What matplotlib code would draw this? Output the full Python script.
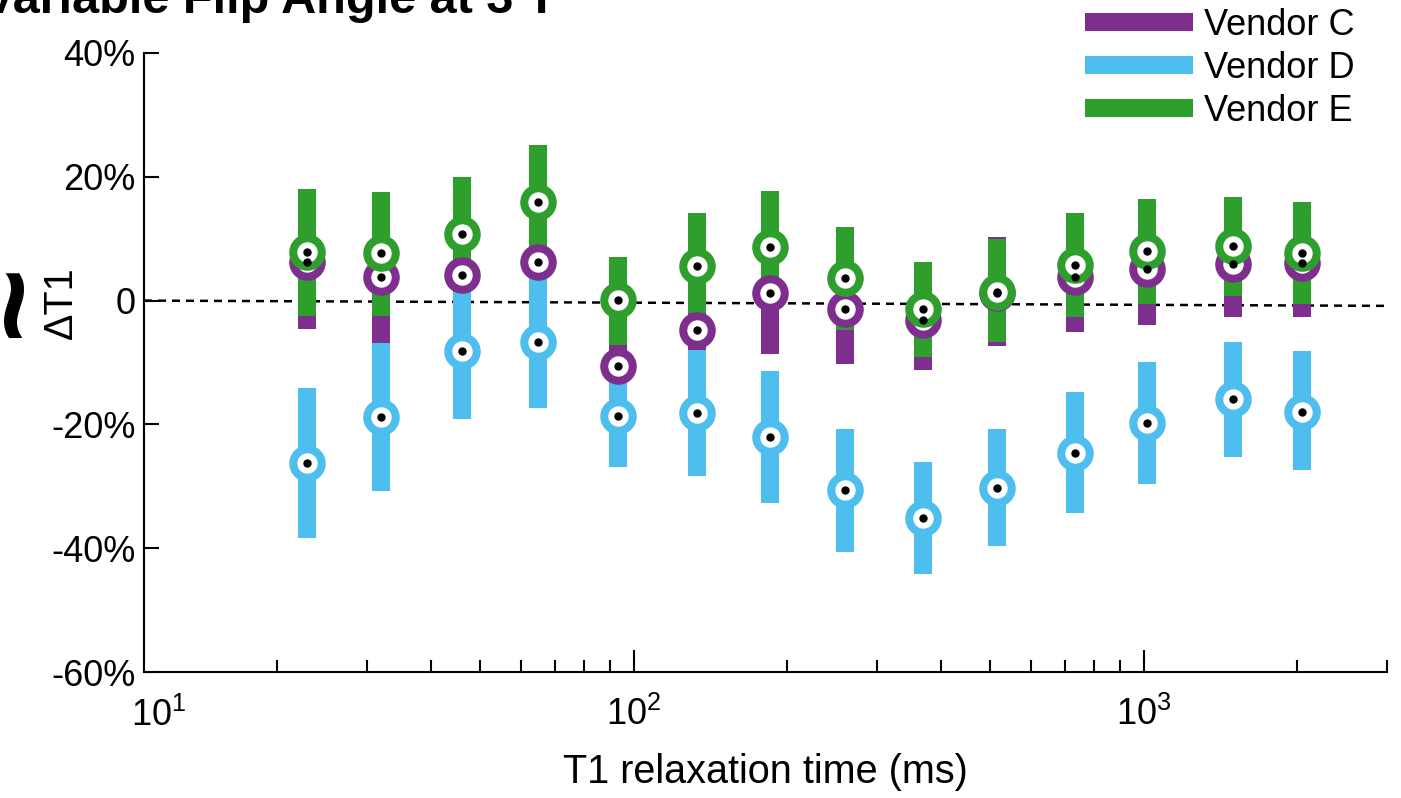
import numpy as np
import matplotlib.pyplot as plt
from matplotlib.lines import Line2D
from matplotlib.ticker import LogLocator, NullFormatter, FixedLocator

plt.rcParams['font.family'] = ['Liberation Sans', 'DejaVu Sans']
plt.rcParams['mathtext.fontset'] = 'custom'
plt.rcParams['mathtext.rm'] = 'Liberation Sans'
plt.rcParams['axes.unicode_minus'] = False

# T1 of the phantom spheres (ms)
t1 = [22.9, 31.9, 46.0, 64.8, 93.0, 133, 185, 260, 369, 515, 732, 1014, 1495, 2042]

# Vendor C
med_c = [6.2, 3.8, 4.1, 6.2, -10.6, -4.8, 1.2, -1.4, -3.1, 1.2, 3.8, 5.1, 5.9, 6.1]
lo_c = [-4.6, -7.5, 0.0, 3.0, -15.0, -9.0, -8.6, -10.2, -11.2, -7.3, -5.1, -3.9, -2.6, -2.7]
hi_c = [12.0, 12.0, 8.0, 10.0, 0.0, 5.0, 9.0, 8.0, 4.0, 10.3, 12.0, 13.0, 14.0, 14.0]

# Vendor D
med_d = [-26.2, -18.8, -8.1, -6.7, -18.6, -18.2, -22.0, -30.6, -35.1, -30.3, -24.6, -19.8, -15.9, -18.0]
lo_d = [-38.4, -30.8, -19.1, -17.3, -26.9, -28.3, -32.7, -40.6, -44.2, -39.7, -34.3, -29.6, -25.3, -27.4]
hi_d = [-14.1, -6.9, 1.4, 4.5, -12.9, -8.0, -11.4, -20.7, -26.1, -20.7, -14.8, -9.9, -6.7, -8.1]

# Vendor E
med_e = [7.8, 7.7, 10.8, 15.9, 0.1, 5.6, 8.7, 3.6, -1.4, 1.4, 5.8, 8.0, 8.8, 7.7]
lo_e = [-2.5, -2.5, 3.0, 7.0, -7.1, -2.0, 0.0, -4.8, -9.1, -6.7, -2.6, -0.5, 0.7, -0.6]
hi_e = [18.0, 17.5, 20.0, 25.1, 7.0, 14.1, 17.7, 11.9, 6.2, 10.0, 14.1, 16.4, 16.7, 15.9]

vendors = ['Vendor C', 'Vendor D', 'Vendor E']
colors = ['#7E2F8E', '#4DBEEE', '#2E9E2C']

# zero reference line ends
ref_x = [10.95, 3000]
ref_y = [0.0, -0.85]

fig = plt.figure(figsize=(14.01, 7.98), dpi=100)
W, H = 1401, 798
ax = fig.add_axes([144 / W, 1 - 672 / H, (1387 - 144) / W, (672 - 53) / H])

ax.plot(ref_x, ref_y, color='black', lw=1.8, ls=(0, (3.2, 2.4)), zorder=1)

meds = [med_c, med_d, med_e]
los = [lo_c, lo_d, lo_e]
his = [hi_c, hi_d, hi_e]

# bars first, then rings, then the black centre dots
for lo, hi, col in zip(los, his, colors):
    ax.vlines(t1, lo, hi, colors=col, lw=13, capstyle='butt', zorder=2)
for med, col in zip(meds, colors):
    ax.plot(t1, med, ls='none', marker='o', ms=20.5, mfc='white', mec=col, mew=5.8, zorder=3)
for med in meds:
    ax.plot(t1, med, ls='none', marker='o', ms=5, color='black', zorder=4)

ax.set_xscale('log')
ax.set_xlim(10.95, 3000)
ax.set_ylim(-60, 40)
for s in ['top', 'right']:
    ax.spines[s].set_visible(False)
for s in ['left', 'bottom']:
    ax.spines[s].set_linewidth(1.5)

ax.xaxis.set_major_locator(FixedLocator([100, 1000]))
ax.set_xticklabels([r'$\mathdefault{10^{2}}$', r'$\mathdefault{10^{3}}$'])
ax.xaxis.set_minor_locator(LogLocator(base=10, subs=np.arange(2, 10)))
ax.xaxis.set_minor_formatter(NullFormatter())
ax.set_yticks([-60, -40, -20, 0, 20, 40])
ax.set_yticklabels(['-60%', '-40%', '-20%', '0', '20%', '40%'])

ax.tick_params(axis='both', which='both', direction='in', width=1.5, labelsize=26)
ax.tick_params(axis='x', which='major', length=15.8, pad=18)
ax.tick_params(axis='x', which='minor', length=8.6)
ax.tick_params(axis='y', which='major', length=11, pad=6)
ax.tick_params(axis='y', which='minor', length=0)

# the 10^1 label sits just right of the axis start
ax.text(15 / 1243, -26 / 619, r'$\mathdefault{10^{1}}$', transform=ax.transAxes,
        ha='center', va='top', fontsize=26)

ax.set_xlabel('T1 relaxation time (ms)', fontsize=28.5, labelpad=14)

fig.text(61 / W, 1 - 303 / H, 'ΔT1', rotation=90, ha='center', va='center', fontsize=28.5)
fig.text(19 / W, 1 - 300 / H, '~', rotation=90, ha='center', va='center', fontsize=92, fontweight='bold')

fig.text(-17 / W, 1 - 13 / H, 'Variable Flip Angle at 3 T', ha='left', va='baseline',
         fontsize=35, fontweight='bold')

handles = [Line2D([], [], color=c, lw=13, solid_capstyle='butt') for c in colors]
fig.legend(handles, vendors, loc='upper left', bbox_to_anchor=(1085 / W, 1 - 8 / H),
           frameon=False, fontsize=26, handlelength=3.0, handletextpad=0.3,
           labelspacing=0.22, borderpad=0, borderaxespad=0)

fig.savefig('out.png', dpi=100)
